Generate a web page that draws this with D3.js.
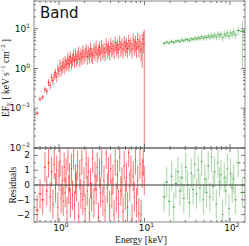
<!DOCTYPE html>
<html><head><meta charset="utf-8">
<script src="https://cdn.jsdelivr.net/npm/d3@7"></script>
<style>body{margin:0;background:#fff}svg{display:block}</style>
</head><body>
<script>
// ---- data ----
const redE = [0.555,0.60,0.645,0.685,0.72,0.755,0.79,0.82,0.85,0.88,0.91,0.94,0.97,1.00,1.03,1.06,1.09,1.12,1.15,1.18,1.21,1.24,1.27,1.30,1.33,1.36,1.40,1.44,1.48,1.52,1.56,1.60,1.65,1.70,1.75,1.80,1.85,1.90,1.96,2.02,2.08,2.14,2.20,2.27,2.34,2.41,2.48,2.56,2.64,2.72,2.80,2.89,2.98,3.07,3.16,3.26,3.36,3.46,3.57,3.68,3.79,3.91,4.03,4.15,4.28,4.41,4.55,4.69,4.83,4.98,5.13,5.29,5.45,5.62,5.79,5.97,6.15,6.34,6.54,6.74,6.95,7.16,7.38,7.61,7.84,8.08,8.33,8.59,8.85,9.12,9.40,9.70,9.95];
const redF = [0.075,0.17,0.19,0.30,0.27,0.45,0.38,0.60,0.50,0.68,0.78,0.62,0.95,0.85,1.30,0.90,1.15,1.40,1.05,1.55,1.25,1.35,1.85,1.30,1.60,2.00,1.45,1.75,2.20,1.55,2.35,1.70,2.05,2.60,1.75,2.30,1.95,2.80,2.05,2.45,3.00,2.00,2.70,2.25,3.20,2.40,2.15,3.10,2.60,3.50,2.35,2.90,3.40,2.50,3.80,2.75,3.15,2.55,4.10,3.00,3.55,2.70,4.30,3.20,3.70,2.90,4.50,3.30,3.90,3.00,4.80,3.40,4.00,3.10,4.60,3.60,4.20,3.20,5.00,3.70,4.30,3.10,5.20,3.80,4.60,3.30,5.40,3.60,4.80,3.00,4.20,5.50,4.30];
const redRelErr = [0.12,0.12,0.14,0.16,0.18,0.2,0.22,0.22,0.25,0.25,0.27,0.27,0.28,0.3,0.3,0.3,0.32,0.32,0.32,0.33,0.33,0.33,0.35,0.35,0.35,0.35,0.35,0.35,0.35,0.35,0.35,0.35,0.38,0.38,0.38,0.38,0.38,0.38,0.38,0.38,0.38,0.38,0.38,0.4,0.4,0.4,0.4,0.4,0.4,0.4,0.4,0.4,0.4,0.4,0.4,0.4,0.4,0.4,0.4,0.4,0.4,0.4,0.4,0.4,0.4,0.4,0.4,0.4,0.4,0.4,0.4,0.42,0.42,0.42,0.42,0.42,0.42,0.42,0.42,0.42,0.42,0.42,0.45,0.45,0.45,0.45,0.45,0.48,0.48,0.5,0.75,0.55,1.2];
const redRes = [-1.7,-0.6,-1.0,1.2,-0.4,1.5,-0.8,0.9,-1.3,1.4,-0.2,1.0,-1.5,0.6,1.6,-0.9,0.3,-1.1,1.2,-0.5,0.8,-1.8,1.9,-0.3,0.5,-1.2,1.1,-0.7,2.0,-1.4,0.4,-0.1,1.3,-2.1,0.7,-0.6,1.7,-1.0,0.2,-1.6,1.4,-0.4,0.9,-1.9,0.1,-0.8,1.8,-1.2,0.6,-0.3,1.2,-2.2,0.8,-0.5,1.5,-1.1,0.3,-1.7,2.1,-0.2,0.9,-1.4,1.1,-0.6,0.4,-2.0,1.6,-0.9,0.7,-1.3,1.9,-0.4,0.2,-1.8,1.3,-0.7,0.5,-1.5,2.2,-0.1,1.0,-2.3,0.6,-0.8,1.7,-1.2,0.3,-1.9,1.4,-2.0,0.8,1.6,0.3];

const greenE = [17.0,18.2,19.5,20.8,22.0,23.3,24.6,26.0,27.4,28.9,30.4,32.0,33.6,35.3,37.0,38.8,40.7,42.6,44.6,46.7,48.8,51.0,53.3,55.7,58.2,60.8,63.5,66.3,69.2,72.2,75.4,78.7,82.1,85.7,89.4,93.3,97.4,101.6,106.0,110.6,115.4,125.0,140.0];
const greenF = [4.3,4.6,4.4,4.8,4.5,4.9,5.0,4.8,5.2,5.0,5.4,5.3,5.1,5.6,5.4,5.8,5.5,6.0,5.7,6.3,5.8,6.2,6.0,6.6,6.1,6.8,6.3,7.0,6.2,7.4,6.6,7.2,6.0,7.4,6.8,7.8,6.5,8.0,7.3,8.3,7.0,9.0,8.5];
const greenRelErr = [0.12,0.12,0.12,0.12,0.12,0.12,0.12,0.12,0.12,0.12,0.12,0.13,0.13,0.13,0.13,0.13,0.14,0.14,0.14,0.14,0.15,0.15,0.15,0.15,0.16,0.16,0.16,0.17,0.17,0.17,0.18,0.18,0.18,0.19,0.19,0.2,0.2,0.21,0.21,0.22,0.22,0.25,0.88];
const greenRes = [-0.8,0.2,-1.1,0.6,-1.5,0.1,0.9,-0.4,0.5,-0.9,1.2,0.0,-1.2,0.8,-0.3,1.4,-0.6,1.0,-0.2,1.6,-1.0,0.4,-0.5,1.3,-0.8,1.9,-0.1,0.9,-1.3,1.5,0.2,0.7,-2.0,0.5,-0.4,1.1,-1.6,0.8,-0.2,0.4,-1.0,1.5,-0.5];

const xTicks = [1, 10, 100];
const xTickExp = ["0", "1", "2"];
const yTicks = [10, 1, 0.1, 0.01];
const yTickExp = ["1", "0", "\u22121", "\u22122"];
const resTicks = [-2, -1, 0, 1, 2];
const resTickLabels = ["\u22122", "\u22121", "0", "1", "2"];

// ---- layout ----
const W = 249, H = 246;
const L = 34, R = 245, T1 = 1, B1 = 148, T2 = 148, B2 = 222;
const svg = d3.select("body").append("svg").attr("width", W).attr("height", H);

const x = d3.scaleLog().domain([0.51, 150]).range([L, R]);
const y = d3.scaleLog().domain([0.01, 50]).range([B1, T1]).clamp(true);
const yr = d3.scaleLinear().domain([-2.5, 2.5]).range([B2, T2]).clamp(true);

const sans = "DejaVu Sans, sans-serif", serif = "Liberation Serif, DejaVu Serif, serif";
const frameCol = "#8c8c8c";

function bins(E) {
  return E.map((e, i) => {
    const prev = i > 0 ? E[i - 1] : e * e / E[i + 1];
    const next = i < E.length - 1 ? E[i + 1] : e * e / E[i - 1];
    return [Math.sqrt(prev * e), Math.sqrt(e * next)];
  });
}

function drawSeries(E, F, rel, Res, col, errOp, barOp) {
  const b = bins(E);
  const gTop = svg.append("g");
  const gRes = svg.append("g");
  E.forEach((e, i) => {
    const f = F[i], er = f * rel[i];
    const lo = f - er > 0 ? f - er : 1e-6;
    gTop.append("line").attr("x1", x(e)).attr("x2", x(e))
      .attr("y1", y(lo)).attr("y2", y(f + er))
      .attr("stroke", col).attr("stroke-opacity", errOp).attr("stroke-width", 1);
    gTop.append("line").attr("x1", x(b[i][0])).attr("x2", x(b[i][1]))
      .attr("y1", y(f)).attr("y2", y(f))
      .attr("stroke", col).attr("stroke-opacity", barOp).attr("stroke-width", 1);
    const r = Res[i];
    gRes.append("line").attr("x1", x(e)).attr("x2", x(e))
      .attr("y1", yr(r - 1)).attr("y2", yr(r + 1))
      .attr("stroke", col).attr("stroke-opacity", errOp).attr("stroke-width", 1);
    gRes.append("line").attr("x1", x(b[i][0])).attr("x2", x(b[i][1]))
      .attr("y1", yr(r)).attr("y2", yr(r))
      .attr("stroke", col).attr("stroke-opacity", barOp).attr("stroke-width", 1);
  });
}

drawSeries(redE, redF, redRelErr, redRes, "#ff0000", 0.55, 0.85);
drawSeries(greenE, greenF, greenRelErr, greenRes, "#2e9a2e", 0.42, 0.9);

// zero line
svg.append("line").attr("x1", L).attr("x2", R).attr("y1", yr(0)).attr("y2", yr(0))
  .attr("stroke", "#333").attr("stroke-width", 1);

// frames
svg.append("rect").attr("x", L).attr("y", T1).attr("width", R - L).attr("height", B1 - T1)
  .attr("fill", "none").attr("stroke", frameCol).attr("stroke-width", 1);
svg.append("rect").attr("x", L).attr("y", T2).attr("width", R - L).attr("height", B2 - T2)
  .attr("fill", "none").attr("stroke", frameCol).attr("stroke-width", 1);
svg.append("line").attr("x1", L).attr("x2", R).attr("y1", B1).attr("y2", B1)
  .attr("stroke", frameCol).attr("stroke-width", 2);

// ticks
const tk = svg.append("g").attr("stroke", "#555").attr("stroke-width", 0.8);
function logMinor(d0, d1) {
  const out = [];
  for (let p = Math.floor(Math.log10(d0)); p <= Math.ceil(Math.log10(d1)); p++)
    for (let m = 1; m < 10; m++) {
      const v = m * Math.pow(10, p);
      if (v >= d0 && v <= d1) out.push({ v, major: m === 1 });
    }
  return out;
}
logMinor(0.51, 150).forEach(t => {
  const len = t.major ? 4 : 2, xx = x(t.v);
  [[T1, 1], [B1, -1], [T2, 1], [B2, -1]].forEach(([yy, s]) =>
    tk.append("line").attr("x1", xx).attr("x2", xx).attr("y1", yy).attr("y2", yy + s * len));
});
logMinor(0.01, 50).forEach(t => {
  const len = t.major ? 4 : 2, yy = y(t.v);
  tk.append("line").attr("x1", L).attr("x2", L + len).attr("y1", yy).attr("y2", yy);
  tk.append("line").attr("x1", R).attr("x2", R - len).attr("y1", yy).attr("y2", yy);
});
d3.range(-2.5, 2.51, 0.5).forEach(v => {
  const major = Math.abs(v - Math.round(v)) < 1e-6, len = major ? 4 : 2, yy = yr(v);
  tk.append("line").attr("x1", L).attr("x2", L + len).attr("y1", yy).attr("y2", yy);
  tk.append("line").attr("x1", R).attr("x2", R - len).attr("y1", yy).attr("y2", yy);
});

// tick labels
const lab = svg.append("g").attr("font-family", sans).attr("font-size", 9).attr("fill", "#111");
function powLabel(px, py, exp, anchor) {
  const t = lab.append("text").attr("x", px).attr("y", py).attr("text-anchor", anchor);
  t.append("tspan").text("10");
  t.append("tspan").attr("dy", -4).attr("font-size", 6).text(exp);
}
yTicks.forEach((v, i) => powLabel(30, y(v) + 3, yTickExp[i], "end"));
xTicks.forEach((v, i) => powLabel(x(v) + 2, 231, xTickExp[i], "middle"));
resTicks.forEach((v, i) => lab.append("text").attr("x", 30).attr("y", yr(v) + 3)
  .attr("text-anchor", "end").text(resTickLabels[i]));

// title
svg.append("text").attr("x", 40).attr("y", 18).attr("font-family", sans)
  .attr("font-size", 15).attr("fill", "#111").text("Band");

// axis labels
const yl = svg.append("text").attr("transform", "translate(9,78) rotate(-90)")
  .attr("text-anchor", "middle").attr("font-family", serif).attr("font-size", 9.5).attr("fill", "#111");
yl.append("tspan").text("EF");
yl.append("tspan").attr("dy", 2).attr("font-size", 6.5).text("E");
yl.append("tspan").attr("dy", -2).text(" [ keV s");
yl.append("tspan").attr("dy", -4).attr("font-size", 6.5).text("\u22121");
yl.append("tspan").attr("dy", 4).text(" cm");
yl.append("tspan").attr("dy", -4).attr("font-size", 6.5).text("\u22122");
yl.append("tspan").attr("dy", 4).text(" ]");

svg.append("text").attr("transform", "translate(16,185) rotate(-90)")
  .attr("text-anchor", "middle").attr("font-family", serif).attr("font-size", 9.5)
  .attr("fill", "#111").text("Residuals");
svg.append("text").attr("x", 141).attr("y", 243).attr("text-anchor", "middle")
  .attr("font-family", serif).attr("font-size", 9.5).attr("fill", "#111").text("Energy [keV]");
</script>
</body></html>
